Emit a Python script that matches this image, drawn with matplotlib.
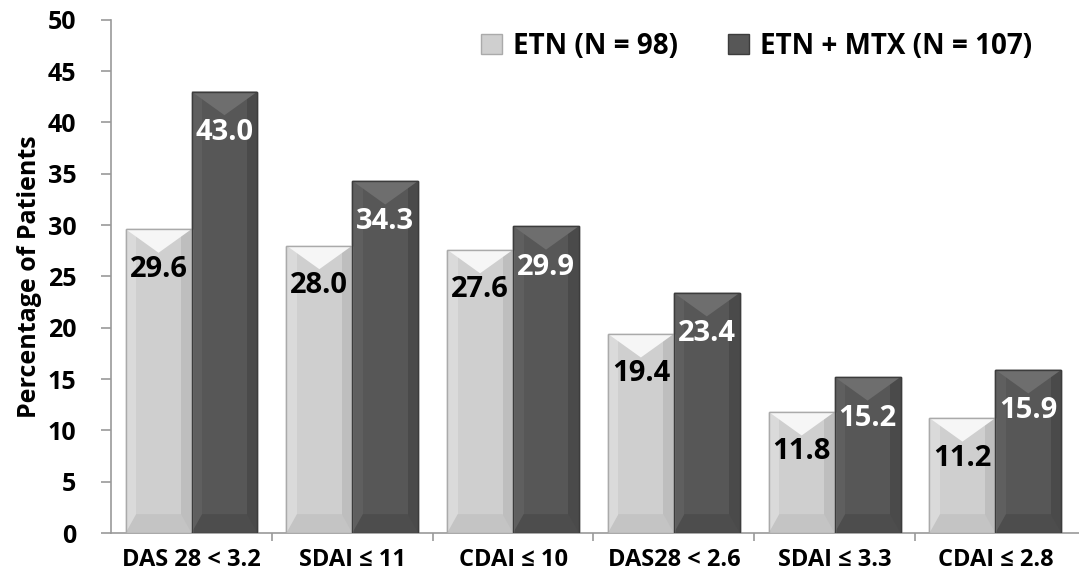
import matplotlib.pyplot as plt
from matplotlib.patches import Polygon
import numpy as np

categories = ['DAS 28 < 3.2', 'SDAI ≤ 11', 'CDAI ≤ 10', 'DAS28 < 2.6', 'SDAI ≤ 3.3', 'CDAI ≤ 2.8']
etn = [29.6, 28.0, 27.6, 19.4, 11.8, 11.2]
etn_mtx = [43.0, 34.3, 29.9, 23.4, 15.2, 15.9]
series_names = ['ETN (N = 98)', 'ETN + MTX (N = 107)']

plt.rcParams['font.family'] = ['Open Sans', 'DejaVu Sans']

fig = plt.figure(figsize=(10.79, 5.80), dpi=100)
ax = fig.add_axes([0.103, 0.081, 0.897, 0.885])

x = np.arange(len(categories))
w = 0.41

# face, top, bottom, left side, right side, edge
light = dict(face='#cfcfcf', top='#f6f6f6', bottom='#c4c4c4', left='#dadada', right='#bebebe', edge='#aaaaaa')
dark = dict(face='#575757', top='#6e6e6e', bottom='#4d4d4d', left='#5f5f5f', right='#4a4a4a', edge='#3c3c3c')


def bevel(bars, c):
    for b in bars:
        x0 = b.get_x()
        x1 = x0 + b.get_width()
        h = b.get_height()
        bw = b.get_width() * 0.16
        d = 2.3
        xm = (x0 + x1) / 2
        # side strips
        ax.add_patch(Polygon([(x0, 0), (x0 + bw, 0), (x0 + bw, h), (x0, h)], closed=True,
                             facecolor=c['left'], edgecolor='none', zorder=3))
        ax.add_patch(Polygon([(x1 - bw, 0), (x1, 0), (x1, h), (x1 - bw, h)], closed=True,
                             facecolor=c['right'], edgecolor='none', zorder=3))
        # bottom bevel
        ax.add_patch(Polygon([(x0, 0), (x1, 0), (x1 - bw, d * 0.8), (x0 + bw, d * 0.8)], closed=True,
                             facecolor=c['bottom'], edgecolor='none', zorder=3))
        # top bevel, triangle pointing down
        ax.add_patch(Polygon([(x0, h), (x1, h), (xm, h - d)], closed=True,
                             facecolor=c['top'], edgecolor='none', zorder=3))
        ax.add_patch(Polygon([(x0, 0), (x1, 0), (x1, h), (x0, h)], closed=True,
                             facecolor='none', edgecolor=c['edge'], linewidth=1.0, zorder=4))


bars1 = ax.bar(x - w / 2, etn, w, color=light['face'], edgecolor=light['edge'],
               label=series_names[0], zorder=2)
bars2 = ax.bar(x + w / 2, etn_mtx, w, color=dark['face'], edgecolor=dark['edge'],
               label=series_names[1], zorder=2)
bevel(bars1, light)
bevel(bars2, dark)

for b, v in zip(bars1, etn):
    ax.text(b.get_x() + b.get_width() / 2, v - 3.9, f'{v:.1f}', ha='center', va='center',
            fontsize=21, fontweight='bold', color='black', zorder=5)
for b, v in zip(bars2, etn_mtx):
    ax.text(b.get_x() + b.get_width() / 2, v - 4.0, f'{v:.1f}', ha='center', va='center',
            fontsize=21, fontweight='bold', color='white', zorder=5)

ax.set_ylim(0, 50)
ax.set_xlim(-0.5, len(categories) - 0.5 + 0.02)
ax.set_yticks(np.arange(0, 51, 5))
ax.set_xticks(x)
ax.set_xticklabels(categories, fontsize=17, fontweight='bold')
ax.set_xticks(np.arange(0.5, len(categories) - 0.5, 1), minor=True)
ax.tick_params(axis='x', which='major', length=0, pad=11)
ax.tick_params(axis='x', which='minor', length=6, color='#999999', width=1.2)
ax.tick_params(axis='y', length=7, color='#999999', width=1.2, labelsize=18, pad=18)
for lab in ax.get_yticklabels():
    lab.set_fontweight('bold')

for s in ['top', 'right']:
    ax.spines[s].set_visible(False)
for s in ['left', 'bottom']:
    ax.spines[s].set_color('#999999')
    ax.spines[s].set_linewidth(1.2)

ax.set_ylabel('Percentage of Patients', fontsize=18, fontweight='bold', labelpad=4)

leg = ax.legend(loc='upper right', bbox_to_anchor=(0.977, 1.025), ncol=2, frameon=False,
                fontsize=20, handlelength=0.75, handleheight=0.75, columnspacing=1.8, handletextpad=0.4)
for t in leg.get_texts():
    t.set_fontweight('bold')

fig.savefig('out.png', dpi=100)
